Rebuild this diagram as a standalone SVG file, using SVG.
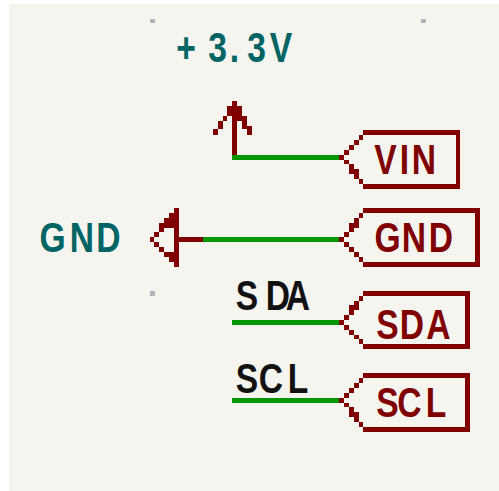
<svg xmlns="http://www.w3.org/2000/svg" width="499" height="491" viewBox="0 0 499 491">
<style>
.r{fill:#800000;shape-rendering:crispEdges}
.w{fill:#009600;shape-rendering:crispEdges}
.d{fill:#b4b4b4;shape-rendering:crispEdges}
text{font-family:"Liberation Sans","DejaVu Sans",sans-serif;font-weight:700;font-size:42px;text-anchor:middle;transform:scale(.8,1)}
.t{fill:#006464}.k{fill:#111111}.l{fill:#800000}
</style>
<rect width="499" height="491" fill="#ffffff"/>
<rect x="9" y="4" width="490" height="487" fill="#f5f4ef"/>
<g id="grid-marks">
<rect class="d" x="150" y="19" width="5" height="4"/>
<rect class="d" x="421" y="19" width="5" height="4"/>
<rect class="d" x="150" y="291" width="5" height="5"/>
</g>
<g id="connectors">
<rect class="w" x="232" y="155" width="107" height="5"/>
<rect class="w" x="203" y="237" width="136" height="5"/>
<rect class="w" x="232" y="320" width="107" height="5"/>
<rect class="w" x="232" y="398" width="107" height="5"/>
</g>
<g id="power-3v3">
<path class="r" d="M232 101H237V155H232ZM227 106H242V116H227ZM232 116H247V121H232ZM223 116H227V121H223ZM218 121H223V129H218ZM242 121H247V129H242ZM247 126H252V135H247ZM213 129H218V135H213Z"/>
<text class="t" y="62" x="232.5 271.9 293.1 320.6 351.25">+3.3V</text>
</g>
<g id="power-gnd">
<path class="r" d="M174 208H179V267H174ZM179 237H203V242H179ZM169 213H174V228H169ZM164 218H169V228H164ZM159 223H164V232H159ZM154 232H159V237H154ZM150 237H154V242H150ZM154 242H159V247H154ZM159 247H164V252H159ZM164 252H174V257H164ZM169 257H174V262H169Z"/>
<text class="t" y="252" x="65.6 102.5 135.6">GND</text>
</g>
<g id="label-vin">
<path class="r" d="M363 130H460V189H363V184H456V135H363ZM359 135H363V140H359ZM354 140H359V145H354ZM349 145H354V150H349ZM344 150H349V155H344ZM339 155H344V160H339ZM344 160H349V164H344ZM349 164H354V174H349ZM354 169H359V179H354ZM359 179H363V184H359Z"/>
<text class="l" y="174" x="481.9 505.6 530">VIN</text>
</g>
<g id="label-gnd">
<path class="r" d="M363 208H480V267H363V262H475V213H363ZM359 213H363V218H359ZM354 218H359V228H354ZM349 223H354V232H349ZM344 232H349V237H344ZM339 237H344V242H339ZM344 242H349V247H344ZM349 247H354V252H349ZM354 252H359V257H354ZM359 257H363V262H359Z"/>
<text class="l" y="252" x="484.4 517.5 551.25">GND</text>
</g>
<g id="label-sda">
<path class="r" d="M363 291H470V349H363V344H465V296H363ZM359 296H363V301H359ZM354 301H359V310H354ZM349 305H354V315H349ZM344 315H349V320H344ZM339 320H344V325H339ZM344 325H349V330H344ZM349 330H354V335H349ZM354 335H359V339H354ZM359 339H363V344H359Z"/>
<text class="l" y="339" x="484.4 515 548.1">SDA</text>
</g>
<g id="label-scl">
<path class="r" d="M363 373H470V432H363V427H465V378H363ZM359 378H363V383H359ZM354 383H359V388H354ZM349 388H354V393H349ZM344 393H349V398H344ZM339 398H344V403H339ZM344 403H349V407H344ZM349 407H354V417H349ZM354 412H359V422H354ZM359 422H363V427H359Z"/>
<text class="l" y="417" x="484.4 511.9 545">SCL</text>
</g>
<g id="net-sda"><text class="k" y="310" x="308.75 347.5 372.5">SDA</text></g>
<g id="net-scl"><text class="k" y="393" x="308.75 338.75 372.5">SCL</text></g>
</svg>
